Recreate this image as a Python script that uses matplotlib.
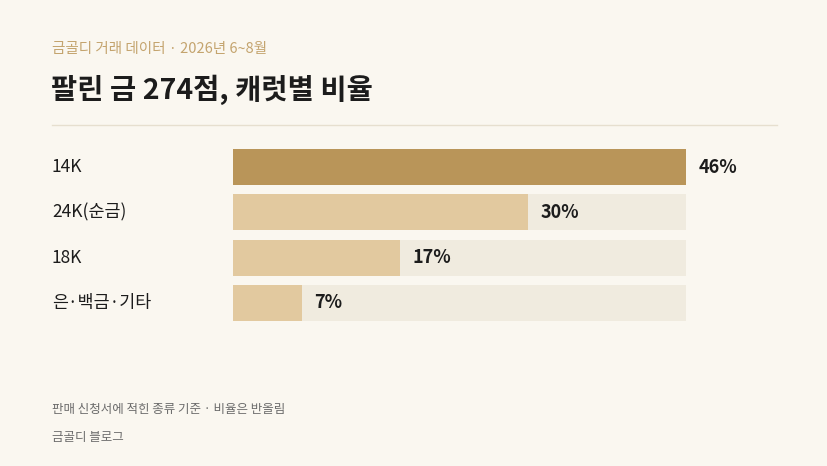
import matplotlib
matplotlib.use("Agg")
import matplotlib.pyplot as plt

plt.rcParams['font.family'] = ['Noto Sans CJK KR', 'DejaVu Sans']

categories = ["14K", "24K(순금)", "18K", "은·백금·기타"]
values = [46, 30, 17, 7]
labels = ["46%", "30%", "17%", "7%"]

W, H = 828, 466
fig = plt.figure(figsize=(W/100, H/100), dpi=100)
bg = "#faf7f0"
fig.patch.set_facecolor(bg)

def fx(x): return x / W
def fy(y): return 1 - y / H

fig.text(fx(52), fy(49), "금골디 거래 데이터 · 2026년 6~8월", color="#c4a46e", fontsize=10.5,
         va="center", ha="left")
fig.text(fx(51), fy(90), "팔린 금 274점, 캐럿별 비율", color="#1c1c1c", fontsize=20.5,
         fontweight="bold", va="center", ha="left")
fig.add_artist(plt.Line2D([fx(52), fx(777)], [fy(125), fy(125)], color="#e6dfcf", lw=1))

top, bot = 144.35, 325.65
ax = fig.add_axes([fx(233), fy(bot), fx(686 - 233), (bot - top) / H])
ax.set_facecolor("none")
vmax = max(values)
y = list(range(len(categories)))
ax.barh(y, [vmax]*len(y), height=0.8, color="#f0ebdf")
colors = ["#b99559"] + ["#e2c99f"] * (len(y) - 1)
ax.barh(y, values, height=0.8, color=colors)
for i, (v, l) in enumerate(zip(values, labels)):
    ax.text(v + 0.55 * (vmax / 20), i, l, va="center", ha="left", fontsize=13,
            fontweight="bold", color="#1c1c1c")
ax.set_xlim(0, vmax)
ax.set_ylim(len(y) - 0.5, -0.5)
ax.axis("off")
for i, c in enumerate(categories):
    fig.text(fx(52), fy(top + (i + 0.5) * (bot - top) / len(y)), c, va="center", ha="left",
             fontsize=12.5, color="#1c1c1c")

fig.text(fx(52), fy(410), "판매 신청서에 적힌 종류 기준 · 비율은 반올림", color="#6b6b6b",
         fontsize=9, va="center", ha="left")
fig.text(fx(52), fy(438), "금골디 블로그", color="#6b6b6b", fontsize=9, va="center", ha="left")

fig.savefig("out.png", dpi=100, facecolor=bg)
